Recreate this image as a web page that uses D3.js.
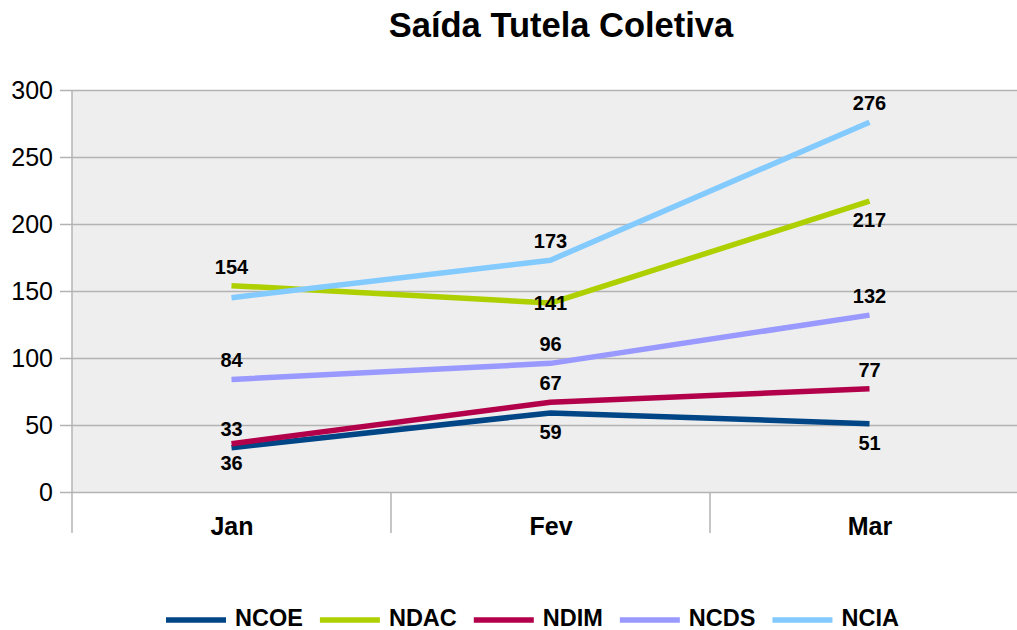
<!DOCTYPE html>
<html>
<head>
<meta charset="utf-8">
<script src="https://cdn.jsdelivr.net/npm/d3@7"></script>
<style>
  html, body { margin: 0; padding: 0; background: #ffffff; }
  svg { display: block; font-family: "Liberation Sans", Arial, sans-serif; }
</style>
</head>
<body>
<svg id="chart" width="1017" height="630"></svg>
<script>
// ---- data ----
const categories = ["Jan", "Fev", "Mar"];
const seriesNames = ["NCOE", "NDAC", "NDIM", "NCDS", "NCIA"];
const NCOE = [33, 59, 51];
const NDAC = [154, 141, 217];
const NDIM = [36, 67, 77];
const NCDS = [84, 96, 132];
const NCIA = [145, 173, 276];
const yTicks = [0, 50, 100, 150, 200, 250, 300];
const chartTitle = "Saída Tutela Coletiva";

// ---- style ----
const colors = {NCOE: "#004586", NDAC: "#aecf00", NDIM: "#b3004a", NCDS: "#9999ff", NCIA: "#83caff"};
// label placement per point: -1 above, 1 below, 0 centered, null hidden
const labelPos = {
  NCOE: [-1, 1, 1],
  NDAC: [-1, 0, 1],
  NDIM: [1, -1, -1],
  NCDS: [-1, -1, -1],
  NCIA: [null, -1, -1]
};
const values = {NCOE, NDAC, NDIM, NCDS, NCIA};

const svg = d3.select("#chart");
const pLeft = 72, pRight = 1029, pTop = 90, pBottom = 492;

const x = d3.scalePoint().domain(categories).range([pLeft, pRight]).padding(0.5);
const y = d3.scaleLinear().domain([0, 300]).range([pBottom, pTop]);
const step = x.step();

// plot background
svg.append("rect").attr("x", pLeft).attr("y", pTop)
  .attr("width", pRight - pLeft).attr("height", pBottom - pTop).attr("fill", "#eeeeee");

// grid lines + ticks
const gy = svg.append("g").attr("transform", `translate(${pLeft - 12},0)`);
gy.call(d3.axisLeft(y).tickValues(yTicks).tickSize(0).tickPadding(0).tickFormat(d3.format("d")));
gy.select(".domain").remove();
gy.selectAll(".tick text").attr("x", -7).attr("font-size", 25).attr("fill", "#000")
  .attr("font-family", "Liberation Sans, Arial, sans-serif");
gy.selectAll(".tick").append("line").attr("x1", 0).attr("x2", pRight - pLeft + 12)
  .attr("stroke", "#b3b3b3").attr("stroke-width", 1.5);

// vertical axis line & category separators
svg.append("line").attr("x1", pLeft).attr("x2", pLeft).attr("y1", pTop).attr("y2", pBottom + 41)
  .attr("stroke", "#b3b3b3").attr("stroke-width", 1.5);
categories.slice(1).forEach(c => {
  const sx = x(c) - step / 2;
  svg.append("line").attr("x1", sx).attr("x2", sx).attr("y1", pBottom).attr("y2", pBottom + 41)
    .attr("stroke", "#b3b3b3").attr("stroke-width", 1.5);
});

// category labels
const gx = svg.append("g").attr("transform", `translate(0,${pBottom})`)
  .call(d3.axisBottom(x).tickSize(0).tickPadding(0));
gx.select(".domain").remove();
gx.selectAll(".tick text").attr("y", 43).attr("dy", null)
  .attr("font-size", 25).attr("font-weight", "bold").attr("fill", "#000")
  .attr("font-family", "Liberation Sans, Arial, sans-serif");

// lines
const line = d3.line().x((d, i) => x(categories[i])).y(d => y(d));
seriesNames.forEach(s => {
  svg.append("path").datum(values[s]).attr("d", line)
    .attr("fill", "none").attr("stroke", colors[s]).attr("stroke-width", 5.5)
    .attr("stroke-linejoin", "round");
});

// data labels
seriesNames.forEach(s => {
  values[s].forEach((v, i) => {
    const p = labelPos[s][i];
    if (p === null) return;
    svg.append("text").attr("x", x(categories[i])).attr("y", y(v) + p * 19)
      .attr("text-anchor", "middle").attr("dominant-baseline", "central")
      .attr("font-size", 20).attr("font-weight", "bold").attr("fill", "#000")
      .text(v);
  });
});

// title
svg.append("text").attr("x", 561).attr("y", 37).attr("text-anchor", "middle")
  .attr("font-size", 34.5).attr("font-weight", "bold").attr("fill", "#000").text(chartTitle);

// legend
let lx = 166;
const ly = 618;
seriesNames.forEach(s => {
  svg.append("line").attr("x1", lx).attr("x2", lx + 60).attr("y1", ly + 2).attr("y2", ly + 2)
    .attr("stroke", colors[s]).attr("stroke-width", 5.5);
  const t = svg.append("text").attr("x", lx + 69).attr("y", ly).attr("dominant-baseline", "central")
    .attr("font-size", 23.5).attr("font-weight", "bold").attr("fill", "#000").text(s);
  lx += 69 + t.node().getComputedTextLength() + 17;
});
</script>
</body>
</html>
